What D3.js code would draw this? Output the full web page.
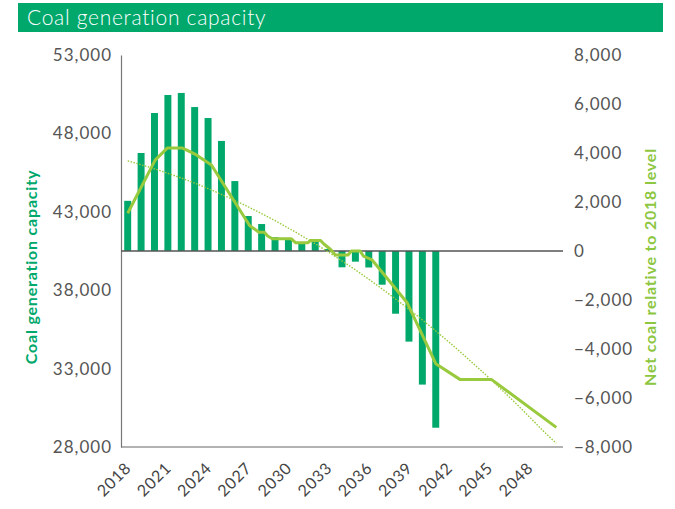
<!DOCTYPE html>
<html>
<head>
<meta charset="utf-8">
<script src="https://cdn.jsdelivr.net/npm/d3@7"></script>
<style>
  html, body { margin: 0; padding: 0; background: #fff; }
  svg { display: block; font-family: Lato, "Open Sans", sans-serif; }
</style>
</head>
<body>
<svg id="chart" width="675" height="509"></svg>
<script>
// ---------- data ----------
const years = d3.range(2018, 2051);               // x categories
const tickYears = [2018, 2021, 2024, 2027, 2030, 2033, 2036, 2039, 2042, 2045, 2048];
const leftTicks = [28000, 33000, 38000, 43000, 48000, 53000];
const rightTicks = [-8000, -6000, -4000, -2000, 0, 2000, 4000, 6000, 8000];

// Coal generation capacity bars (left axis)
const barYears = [2018, 2019, 2020, 2021, 2022, 2023, 2024, 2025, 2026, 2027, 2028, 2029,
                  2030, 2031, 2032, 2033, 2034, 2035, 2036, 2037, 2038, 2039, 2040, 2041];
const barValues = [43700, 46750, 49300, 50450, 50580, 49680, 48980, 47520, 44960, 42730, 42220, 41380,
                   41290, 40950, 41080, 40630, 39460, 39820, 39450, 38350, 36500, 34720, 31980, 29230];

// Net coal relative to 2018 level (right axis) – solid line
const netYears = [2018, 2020.05, 2020.95, 2022.1, 2023.1, 2024.25, 2027.1, 2027.8, 2028.2, 2028.45,
                  2028.8, 2030.2, 2030.55, 2031.45, 2031.65, 2032.4, 2032.65, 2033.15, 2033.5, 2034.45,
                  2034.7, 2035.35, 2035.6, 2036.25, 2038.85, 2041.0, 2042.8, 2045.15, 2050];
const netValues = [1540, 3710, 4200, 4200, 3930, 3510, 1040, 765, 765, 610,
                   500, 500, 335, 335, 430, 430, 285, 60, -160, -160,
                   0, 0, -205, -365, -2100, -4600, -5240, -5240, -7200];

// Trend line (right axis) – dotted
const trendYears = d3.range(2018, 2051);
const trendValues = [3680, 3520, 3355, 3170, 2980, 2770, 2550, 2310, 2065, 1800, 1525, 1240, 935,
                     620, 295, -50, -405, -770, -1155, -1550, -1960, -2380, -2815, -3265, -3725,
                     -4200, -4690, -5190, -5705, -6230, -6775, -7330, -7850];

// ---------- layout ----------
const svg = d3.select("#chart");
const green = "#00A86B", lime = "#99C93C";
const plot = { left: 121, right: 563, top: 55, bottom: 447 };

const x = d3.scaleBand().domain(years).range([plot.left, plot.right]).paddingInner(0.48).paddingOuter(0.24);
const xc = d3.scaleLinear().domain([2018, 2050])
  .range([x(2018) + x.bandwidth() / 2, x(2050) + x.bandwidth() / 2]);
const yL = d3.scaleLinear().domain([28000, 53000]).range([plot.bottom, plot.top]);
const yR = d3.scaleLinear().domain([-8000, 8000]).range([plot.bottom, plot.top]);

// title bar
svg.append("rect").attr("x", 18).attr("y", 3).attr("width", 645).attr("height", 29).attr("fill", green);
svg.append("text").attr("x", 27).attr("y", 25).attr("fill", "#fff")
  .attr("font-size", 21).attr("font-weight", 300).attr("letter-spacing", 0.7)
  .text("Coal generation capacity");

// left axis
const gL = svg.append("g").attr("transform", `translate(${plot.left},0)`)
  .call(d3.axisLeft(yL).tickValues(leftTicks).tickSize(0).tickPadding(9).tickFormat(d3.format(",")));
gL.select(".domain").attr("stroke", "#777").attr("stroke-width", 1.2);
gL.selectAll("text").attr("font-size", 17).attr("fill", "#555").attr("letter-spacing", 1)
  .attr("font-family", "Lato, sans-serif");

// right axis
const gR = svg.append("g").attr("transform", `translate(${plot.right},0)`)
  .call(d3.axisRight(yR).tickValues(rightTicks).tickSize(0).tickPadding(11).tickFormat(d3.format(",")));
gR.select(".domain").remove();
gR.selectAll("text").attr("font-size", 17).attr("fill", "#555").attr("letter-spacing", 1)
  .attr("font-family", "Lato, sans-serif");

// bottom axis line
svg.append("line").attr("x1", plot.left).attr("x2", plot.right)
  .attr("y1", plot.bottom).attr("y2", plot.bottom).attr("stroke", "#666").attr("stroke-width", 1.2);

// x tick labels
const gX = svg.append("g").attr("transform", `translate(0,${plot.bottom})`)
  .call(d3.axisBottom(xc).tickValues(tickYears).tickSize(0).tickPadding(0).tickFormat(d3.format("d")));
gX.select(".domain").remove();
gX.selectAll("text")
  .attr("font-size", 16).attr("fill", "#444").attr("letter-spacing", 0.8)
  .attr("font-family", "Lato, sans-serif")
  .attr("text-anchor", "end").attr("dy", null).attr("y", 0)
  .attr("transform", "translate(4,22) rotate(-45)");

// bars
svg.append("g").selectAll("rect").data(barYears).join("rect")
  .attr("x", d => x(d))
  .attr("width", x.bandwidth())
  .attr("y", (d, i) => Math.min(yL(barValues[i]), yR(0)))
  .attr("height", (d, i) => Math.abs(yR(0) - yL(barValues[i])))
  .attr("fill", green);

// zero line
svg.append("line").attr("x1", plot.left).attr("x2", plot.right)
  .attr("y1", yR(0)).attr("y2", yR(0)).attr("stroke", "#555").attr("stroke-width", 1.5);

// trend line (dotted)
svg.append("path")
  .datum(trendYears.map((d, i) => [d, trendValues[i]]))
  .attr("fill", "none").attr("stroke", lime).attr("stroke-width", 1.4)
  .attr("stroke-dasharray", "1.5,1.5")
  .attr("d", d3.line().x(d => xc(d[0])).y(d => yR(d[1])).curve(d3.curveMonotoneX));

// net line
svg.append("path")
  .datum(netYears.map((d, i) => [d, netValues[i]]))
  .attr("fill", "none").attr("stroke", lime).attr("stroke-width", 3)
  .attr("stroke-linejoin", "round")
  .attr("d", d3.line().x(d => xc(d[0])).y(d => yR(d[1])));

// axis titles
svg.append("text").attr("transform", "translate(37,267) rotate(-90)")
  .attr("text-anchor", "middle").attr("fill", green).attr("font-size", 16).attr("font-weight", 700)
  .attr("letter-spacing", 0.8)
  .text("Coal generation capacity");
svg.append("text").attr("transform", "translate(656,267) rotate(-90)")
  .attr("text-anchor", "middle").attr("fill", "#8DC63F").attr("font-size", 16).attr("font-weight", 700)
  .attr("letter-spacing", 0.8)
  .text("Net coal relative to 2018 level");
</script>
</body>
</html>
